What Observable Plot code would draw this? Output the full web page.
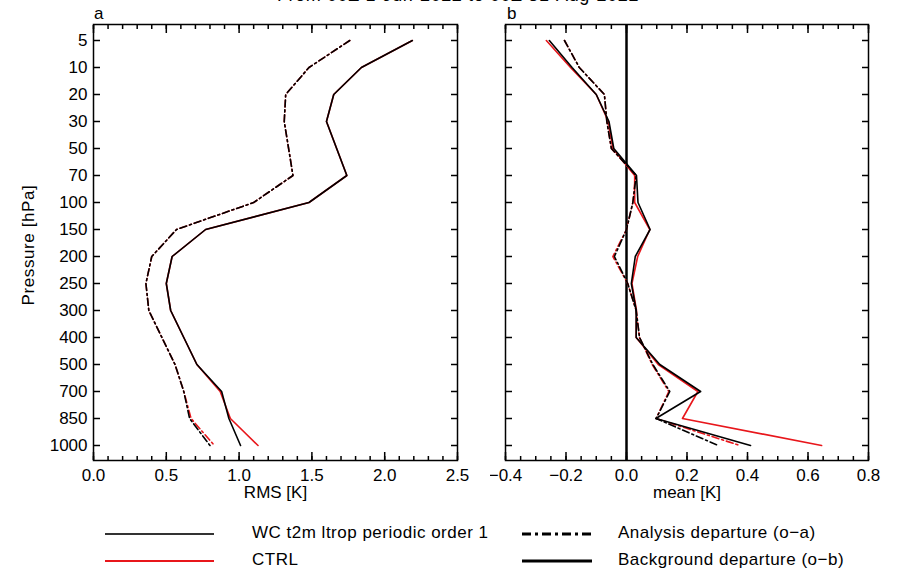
<!DOCTYPE html>
<html><head><meta charset="utf-8">
<script src="https://cdn.jsdelivr.net/npm/d3@7"></script>
<script src="https://cdn.jsdelivr.net/npm/@observablehq/plot@0.6"></script>
<style>
body{margin:0;background:#fff;font-family:"Liberation Sans",Arial,Helvetica,sans-serif;color:#000;}
#wrap{position:relative;width:898px;height:569px;overflow:hidden;background:#fff;}
#title{position:absolute;left:0;width:916px;text-align:center;top:-14px;font-size:18px;line-height:18px;letter-spacing:0.6px;white-space:nowrap;}
#pa{position:absolute;left:0;top:0;}
#pb{position:absolute;left:490px;top:0;}
.plab{position:absolute;font-size:17px;line-height:17px;}
.lg{position:absolute;font-size:17px;line-height:16px;letter-spacing:0.5px;white-space:nowrap;}
#ylab{position:absolute;left:28px;top:245px;font-size:17px;line-height:17px;letter-spacing:0.6px;white-space:nowrap;transform:translate(-50%,-50%) rotate(-90deg);}
svg.lgl{position:absolute;overflow:visible;}
</style></head><body>
<div id="wrap">
  <div id="title">From 00Z 1-Jun-2022 to 00Z 31-Aug-2022</div>
  <div class="plab" style="left:94px;top:5px;">a</div>
  <div class="plab" style="left:507px;top:5px;">b</div>
  <div id="pa"></div>
  <div id="pb"></div>
  <div id="ylab">Pressure [hPa]</div>
  <svg class="lgl" width="898" height="569" style="left:0;top:0;pointer-events:none">
    <line x1="105" x2="214" y1="534" y2="534" stroke="#333" stroke-width="2"/>
    <line x1="105" x2="214" y1="561" y2="561" stroke="#e8161b" stroke-width="2"/>
    <line x1="522" x2="592" y1="534" y2="534" stroke="#000" stroke-width="3" stroke-dasharray="9,4,3,4"/>
    <line x1="522" x2="592" y1="561" y2="561" stroke="#000" stroke-width="3"/>
  </svg>
  <div class="lg" style="left:252px;top:525px;">WC t2m ltrop periodic order 1</div>
  <div class="lg" style="left:252px;top:552px;">CTRL</div>
  <div class="lg" style="left:618px;top:525px;">Analysis departure (o−a)</div>
  <div class="lg" style="left:618px;top:552px;">Background departure (o−b)</div>
</div>
<script>
// Pressure levels (hPa), plotted equally spaced
const levels = ["5","10","20","30","50","70","100","150","200","250","300","400","500","700","850","1000"];

// Panel a: RMS [K]
const rmsObWC   = [2.19,1.84,1.65,1.60,1.67,1.74,1.48,0.77,0.54,0.50,0.53,0.62,0.71,0.88,0.93,1.01];
const rmsObCTRL = [2.19,1.84,1.65,1.60,1.67,1.74,1.48,0.77,0.54,0.50,0.53,0.62,0.71,0.87,0.94,1.13];
const rmsOaWC   = [1.76,1.48,1.32,1.31,1.34,1.37,1.10,0.57,0.40,0.36,0.38,0.47,0.56,0.62,0.66,0.80];
const rmsOaCTRL = [1.76,1.48,1.32,1.31,1.34,1.37,1.10,0.57,0.40,0.36,0.38,0.47,0.56,0.62,0.67,0.83];

// Panel b: mean [K]
const meanObWC   = [-0.255,-0.18,-0.10,-0.058,-0.042,0.033,0.038,0.078,0.029,0.016,0.032,0.032,0.11,0.245,0.097,0.41];
const meanObCTRL = [-0.265,-0.185,-0.10,-0.06,-0.045,0.027,0.027,0.077,0.037,0.018,0.033,0.032,0.105,0.236,0.185,0.645];
const meanOaWC   = [-0.205,-0.156,-0.073,-0.065,-0.05,0.032,0.021,0.0,-0.04,0.004,0.032,0.043,0.087,0.143,0.098,0.303];
const meanOaCTRL = [-0.205,-0.156,-0.073,-0.065,-0.05,0.030,0.021,0.0,-0.045,0.004,0.032,0.043,0.085,0.14,0.098,0.375];

// Tick labels
const ticksA = [0, 0.5, 1.0, 1.5, 2.0, 2.5];
const ticksB = [-0.4, -0.2, 0.0, 0.2, 0.4, 0.6, 0.8];

const RED = "#e8161b", BLACK = "#000";
const rows = vals => levels.map((p, i) => ({p, v: vals[i]}));
const minor = (lo, hi, step) => d3.range(Math.round((hi - lo) / step) + 1).map(i => +(lo + i * step).toFixed(3));
const dashDot = "7,3,2,3";
const fmt = d3.format(".1f");

function frameAxes(xMinor, xMajor) {
  return [
    Plot.axisX(xMinor, {anchor: "bottom", tickSize: 4, dy: -4, tickFormat: () => "", label: null, strokeWidth: 1.5}),
    Plot.axisX(xMajor, {anchor: "bottom", tickSize: 8, dy: -8, tickFormat: () => "", label: null, strokeWidth: 1.5}),
    Plot.axisX(xMinor, {anchor: "top", tickSize: 4, dy: 4, tickFormat: () => "", label: null, strokeWidth: 1.5}),
    Plot.axisX(xMajor, {anchor: "top", tickSize: 8, dy: 8, tickFormat: () => "", label: null, strokeWidth: 1.5}),
    Plot.axisX(xMajor, {anchor: "bottom", tickSize: 0, tickPadding: 8, tickFormat: fmt, label: null, fontSize: 17}),
    Plot.axisY(levels, {anchor: "left", tickSize: 7, dx: 7, tickFormat: () => "", label: null, strokeWidth: 1.5}),
    Plot.axisY(levels, {anchor: "right", tickSize: 7, dx: -7, tickFormat: () => "", label: null, strokeWidth: 1.5})
  ];
}

function lines(obWC, obCTRL, oaWC, oaCTRL) {
  return [
    Plot.line(rows(obCTRL), {x: "v", y: "p", stroke: RED, strokeWidth: 1.6}),
    Plot.line(rows(oaCTRL), {x: "v", y: "p", stroke: RED, strokeWidth: 1.6, strokeDasharray: dashDot}),
    Plot.line(rows(obWC), {x: "v", y: "p", stroke: BLACK, strokeWidth: 1.6}),
    Plot.line(rows(oaWC), {x: "v", y: "p", stroke: BLACK, strokeWidth: 1.6, strokeDasharray: dashDot})
  ];
}

const style = {fontFamily: "Liberation Sans, Arial, Helvetica, sans-serif", fontSize: "17px", background: "transparent", color: "#000"};

const plotA = Plot.plot({
  width: 470, height: 505,
  marginLeft: 93, marginRight: 13, marginTop: 24, marginBottom: 45,
  style,
  x: {domain: [0, 2.5], label: null},
  y: {type: "point", domain: levels, padding: 0.5, label: null},
  marks: [
    ...lines(rmsObWC, rmsObCTRL, rmsOaWC, rmsOaCTRL),
    Plot.frame({strokeWidth: 1.5}),
    ...frameAxes(minor(0, 2.5, 0.1), ticksA),
    Plot.axisY(levels, {anchor: "left", tickSize: 0, tickPadding: 6, label: null, fontSize: 17}),
    Plot.text(["RMS [K]"], {text: d => d, frameAnchor: "bottom", dy: 37, fontSize: 17})
  ]
});
document.getElementById("pa").appendChild(plotA);

const plotB = Plot.plot({
  width: 400, height: 505,
  marginLeft: 15, marginRight: 22, marginTop: 24, marginBottom: 45,
  style,
  x: {domain: [-0.4, 0.8], label: null},
  y: {type: "point", domain: levels, padding: 0.5, label: null},
  marks: [
    Plot.ruleX([0], {stroke: BLACK, strokeWidth: 2.5}),
    ...lines(meanObWC, meanObCTRL, meanOaWC, meanOaCTRL),
    Plot.frame({strokeWidth: 1.5}),
    ...frameAxes(minor(-0.4, 0.8, 0.05), ticksB),
    Plot.text(["mean [K]"], {text: d => d, frameAnchor: "bottom", dy: 37, fontSize: 17})
  ]
});
document.getElementById("pb").appendChild(plotB);
</script>
</body></html>
